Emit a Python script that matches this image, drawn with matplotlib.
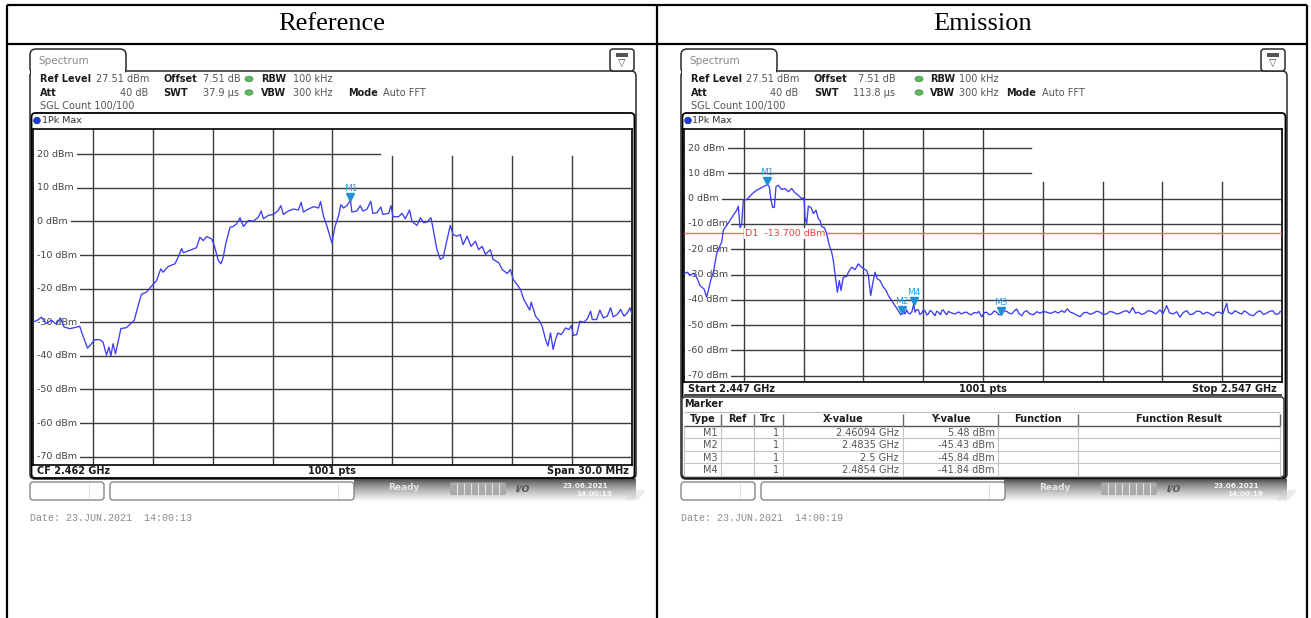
import numpy as np
import matplotlib
matplotlib.use('Agg')
import matplotlib.pyplot as plt
from matplotlib.patches import FancyBboxPatch, Rectangle, Circle, Ellipse
import matplotlib.transforms as mtransforms

# ---------------- data ----------------
ref_freq_mhz = [2447.00, 2447.25, 2447.42, 2447.67, 2447.92, 2448.17, 2448.37, 2448.55, 2448.84, 2449.09,
                2449.34, 2449.46, 2449.73, 2449.93, 2450.09, 2450.34, 2450.51, 2450.68, 2450.80, 2450.90,
                2451.01, 2451.13, 2451.26, 2451.40, 2451.68, 2452.07, 2452.27, 2452.43, 2452.69, 2452.90,
                2453.19, 2453.40, 2453.52, 2453.77, 2454.11, 2454.31, 2454.44, 2454.53, 2454.94, 2455.19,
                2455.36, 2455.53, 2455.70, 2455.95, 2456.08, 2456.28, 2456.41, 2456.53, 2456.65, 2456.78,
                2456.87, 2457.03, 2457.20, 2457.37, 2457.54, 2457.79, 2458.04, 2458.29, 2458.43, 2458.54,
                2458.79, 2459.04, 2459.29, 2459.41, 2459.54, 2459.79, 2460.04, 2460.29, 2460.43, 2460.54,
                2460.80, 2461.05, 2461.30, 2461.40, 2461.55, 2461.72, 2461.97, 2462.13, 2462.30, 2462.42,
                2462.55, 2462.72, 2462.90, 2462.97, 2463.22, 2463.39, 2463.52, 2463.72, 2463.92, 2464.02,
                2464.22, 2464.42, 2464.52, 2464.81, 2464.93, 2465.03, 2465.31, 2465.48, 2465.65, 2465.86,
                2465.98, 2466.23, 2466.40, 2466.57, 2466.73, 2466.93, 2467.03, 2467.23, 2467.40, 2467.54,
                2467.70, 2467.90, 2468.04, 2468.24, 2468.40, 2468.54, 2468.74, 2468.94, 2469.16, 2469.32,
                2469.49, 2469.66, 2469.91, 2470.04, 2470.33, 2470.50, 2470.75, 2470.91, 2471.05, 2471.25,
                2471.42, 2471.58, 2471.88, 2471.95, 2472.17, 2472.38, 2472.50, 2472.67, 2472.79, 2472.92,
                2473.05, 2473.17, 2473.29, 2473.45, 2473.67, 2473.84, 2473.96, 2474.06, 2474.23, 2474.39,
                2474.59, 2474.76, 2474.93, 2475.01, 2475.23, 2475.39, 2475.56, 2475.76, 2475.93, 2476.06,
                2476.26, 2476.43, 2476.60, 2476.77, 2476.90, 2477.00]
ref_level_dbm = [-30.0, -29.3, -28.5, -30.4, -29.4, -30.6, -28.7, -31.4, -31.9, -31.6,
                 -31.2, -33.4, -37.7, -36.4, -35.2, -35.2, -35.9, -39.8, -37.4, -40.0,
                 -36.4, -39.4, -35.9, -31.9, -31.6, -29.4, -25.0, -21.7, -21.0, -19.5,
                 -17.6, -14.1, -15.1, -13.4, -12.6, -10.1, -8.1, -9.3, -8.4, -7.8,
                 -4.7, -5.7, -4.5, -5.2, -7.2, -11.6, -12.6, -10.6, -6.7, -3.7,
                 -1.7, -1.5, -0.7, 1.1, -1.5, 0.3, 0.1, 1.3, 3.1, 0.8,
                 1.8, 2.1, 3.3, 4.7, 2.1, 3.1, 3.7, 3.4, 5.7, 2.8,
                 3.7, 4.4, 4.0, 5.9, 1.6, -1.4, -6.4, -1.4, 1.6, 5.0,
                 4.0, 4.7, 6.3, 2.8, 3.1, 4.7, 3.1, 3.6, 6.0, 2.4,
                 2.6, 4.3, 2.1, 2.4, 4.7, 1.4, 1.4, 2.4, 0.8, 3.4,
                 0.0, -1.2, 1.1, -0.4, -0.2, 1.1, -1.9, -8.4, -11.3, -10.8,
                 -6.4, -1.2, -3.9, -4.4, -3.9, -6.9, -4.4, -7.4, -5.9, -8.4,
                 -7.4, -9.8, -8.4, -11.3, -12.3, -14.3, -15.5, -14.3, -17.3, -18.8,
                 -20.3, -23.2, -26.4, -24.0, -28.2, -29.7, -31.2, -35.1, -37.1, -33.2,
                 -38.1, -35.1, -33.2, -33.7, -31.7, -32.2, -31.0, -33.9, -33.7, -29.7,
                 -30.0, -29.0, -26.7, -29.2, -29.2, -26.4, -28.7, -28.2, -25.7, -28.4,
                 -27.7, -26.2, -28.2, -27.2, -25.7, -27.7]

# emission trace: in-band part and skirt
emi_band_freq_mhz = [2447.00, 2447.56, 2448.00, 2448.56, 2449.12, 2449.68, 2450.34, 2450.79, 2451.07, 2451.46,
                     2451.91, 2452.46, 2452.91, 2453.30, 2453.58, 2454.13, 2454.69, 2455.25, 2455.81, 2456.09,
                     2456.36, 2456.64, 2456.92, 2457.48, 2458.04, 2458.59, 2459.15, 2459.71, 2460.27, 2460.71,
                     2460.94, 2461.27, 2461.55, 2461.83, 2462.11, 2462.38, 2462.77, 2463.33, 2463.89, 2464.45,
                     2465.00, 2465.56, 2466.12, 2466.68, 2467.07, 2467.23, 2467.51, 2467.79, 2468.24, 2468.63,
                     2469.07, 2469.46, 2469.74, 2470.02, 2470.47, 2470.86, 2471.30, 2471.69, 2471.97, 2472.25,
                     2472.64, 2472.98, 2473.25, 2473.64, 2474.20, 2474.48, 2475.04, 2475.60, 2476.15, 2476.71,
                     2477.10, 2477.54, 2477.83, 2478.22, 2478.55, 2478.94, 2479.33, 2479.78, 2480.34, 2480.78,
                     2481.17, 2481.73, 2482.29, 2482.84, 2483.23]
emi_band_level_dbm = [-29.7, -29.1, -30.4, -29.5, -31.1, -34.4, -35.7, -39.0, -36.3, -32.4,
                      -29.1, -21.8, -19.2, -17.2, -12.5, -10.6, -8.6, -6.6, -4.6, -3.0,
                      -11.5, -10.2, -0.6, -0.4, 1.0, 2.3, 3.3, 4.0, 4.7, 5.3,
                      5.48, 4.7, -0.6, -3.5, -3.5, 4.7, 5.3, 3.6, 4.0, 2.7,
                      4.0, 2.3, 1.3, 0.0, 0.4, -7.2, -10.2, -3.0, -3.5, -5.9,
                      -4.6, -7.9, -8.6, -11.0, -11.5, -13.9, -18.5, -21.1, -24.4, -29.7,
                      -37.0, -32.4, -36.3, -31.1, -30.8, -29.1, -27.1, -28.1, -25.8, -27.1,
                      -27.8, -28.4, -30.4, -38.3, -33.7, -29.1, -31.7, -32.4, -35.0, -36.3,
                      -38.3, -40.3, -42.3, -44.3, -45.9]
# emission trace: noise floor above the band edge
emi_floor_freq_mhz = [2483.50, 2483.75, 2483.96, 2484.24, 2484.50, 2484.79, 2485.10, 2485.40, 2485.63, 2485.90,
                      2486.19, 2486.45, 2486.74, 2487.00, 2487.30, 2487.60, 2487.86, 2488.15, 2488.42, 2488.70,
                      2488.97, 2489.25, 2489.53, 2489.90, 2490.10, 2490.37, 2490.65, 2490.92, 2491.20, 2491.48,
                      2491.90, 2492.32, 2492.90, 2493.43, 2493.85, 2494.27, 2494.70, 2495.10, 2495.50, 2495.94,
                      2496.30, 2496.78, 2497.20, 2497.61, 2498.00, 2498.45, 2498.85, 2499.29, 2499.65, 2500.00,
                      2500.45, 2500.96, 2501.40, 2501.79, 2502.20, 2502.63, 2503.00, 2503.47, 2503.90, 2504.30,
                      2504.80, 2505.42, 2506.00, 2506.53, 2507.10, 2507.65, 2508.30, 2509.04, 2509.60, 2510.15,
                      2510.60, 2511.10, 2511.60, 2512.11, 2512.70, 2513.22, 2513.80, 2514.34, 2514.90, 2515.45,
                      2516.00, 2516.57, 2517.10, 2517.68, 2518.20, 2518.79, 2519.30, 2519.91, 2520.50, 2521.02,
                      2521.50, 2522.03, 2522.50, 2522.98, 2523.50, 2524.09, 2524.60, 2525.21, 2525.90, 2526.60,
                      2527.10, 2527.71, 2528.20, 2528.83, 2529.40, 2529.94, 2530.50, 2531.06, 2531.60, 2532.17,
                      2532.70, 2533.29, 2533.80, 2534.40, 2534.90, 2535.52, 2536.00, 2536.52, 2537.10, 2537.75,
                      2538.03, 2538.60, 2539.14, 2539.70, 2540.26, 2540.70, 2541.09, 2541.60, 2542.21, 2542.80,
                      2543.32, 2543.90, 2544.44, 2544.90, 2545.44, 2545.90, 2546.39, 2546.70, 2547.00]
emi_floor_level_dbm = [-45.43, -44.6, -45.6, -44.0, -45.2, -45.6, -44.8, -41.84, -44.9, -43.9,
                       -44.0, -45.8, -45.3, -44.1, -44.3, -46.0, -45.6, -44.2, -44.6, -45.5,
                       -46.3, -44.5, -44.9, -45.9, -44.3, -44.0, -45.2, -45.9, -44.6, -44.9,
                       -45.3, -45.6, -44.8, -45.6, -45.0, -44.9, -45.7, -45.9, -45.0, -45.3,
                       -44.6, -46.7, -45.1, -44.9, -45.9, -45.6, -44.4, -44.9, -45.9, -45.84,
                       -44.3, -44.6, -45.3, -45.6, -44.5, -43.6, -45.4, -46.3, -44.8, -44.3,
                       -45.5, -45.9, -44.7, -45.3, -44.6, -44.9, -45.4, -44.6, -45.2, -44.3,
                       -45.0, -43.6, -44.9, -45.3, -46.1, -46.7, -45.2, -44.9, -45.7, -45.3,
                       -44.5, -44.9, -45.8, -45.6, -44.6, -44.9, -45.6, -45.3, -44.6, -44.3,
                       -45.2, -43.0, -45.3, -44.9, -45.8, -45.3, -44.3, -44.6, -45.6, -44.0,
                       -45.5, -42.3, -45.2, -45.6, -44.7, -46.9, -45.0, -44.3, -45.9, -45.6,
                       -44.5, -44.6, -45.7, -44.9, -45.4, -46.3, -45.0, -44.9, -45.6, -41.4,
                       -44.9, -45.6, -44.3, -45.1, -45.6, -44.4, -44.9, -45.9, -46.3, -44.9,
                       -44.3, -45.8, -45.3, -44.6, -44.3, -45.7, -45.6, -44.6, -44.9]

ref_marker_names = ['M1']
ref_marker_freq_mhz = [2462.899]
ref_marker_level = [6.30]

emi_marker_names = ['M1', 'M2', 'M3', 'M4']
emi_marker_freq_mhz = [2460.94, 2483.5, 2500.0, 2485.4]
emi_marker_level = [5.48, -45.43, -45.84, -41.84]
emi_marker_xtext = ['2.46094 GHz', '2.4835 GHz', '2.5 GHz', '2.4854 GHz']
emi_marker_ytext = ['5.48 dBm', '-45.43 dBm', '-45.84 dBm', '-41.84 dBm']

d1_level_dbm = -13.7
ytick_dbm = [20, 10, 0, -10, -20, -30, -40, -50, -60, -70]
ytick_labels = ['20 dBm', '10 dBm', '0 dBm', '-10 dBm', '-20 dBm', '-30 dBm', '-40 dBm', '-50 dBm', '-60 dBm', '-70 dBm']
ref_level = 27.51
ref_span = (2447.0, 2477.0)
emi_span = (2447.0, 2547.0)
table_cols = ['Type', 'Ref', 'Trc', 'X-value', 'Y-value', 'Function', 'Function Result']

emi_freq_mhz = emi_band_freq_mhz + emi_floor_freq_mhz
emi_level_dbm = emi_band_level_dbm + emi_floor_level_dbm

# ---------------- figure ----------------
W, H = 1311, 618
plt.rcParams['font.family'] = ['DejaVu Sans']
fig = plt.figure(figsize=(W / 100, H / 100), dpi=100)
bg = fig.add_axes([0, 0, 1, 1])
bg.axis('off')

BLUE_TR = '#3d3df2'
MK = '#2c9ee0'
DARK = '#1c1c1c'
VAL = '#555555'
GRID = '#3c3c3c'


def T(x, y, s, ha='left', va='center', size=7, weight='normal', color=VAL, family='DejaVu Sans', ax=None, **kw):
    ax = ax or bg
    return ax.text(x, y, s, ha=ha, va=va, fontsize=size, fontweight=weight, color=color,
                   family=family, **kw)


def L(xs, ys, color='black', lw=1.0, z=2):
    bg.plot(xs, ys, color=color, lw=lw, zorder=z, solid_capstyle='butt')


def rbox(x0, y0, x1, y1, r=3, ec='#333333', fc='none', lw=1.0, z=2):
    p = FancyBboxPatch((x0, y0), x1 - x0, y1 - y0, boxstyle=f'round,pad=0,rounding_size={r}',
                       ec=ec, fc=fc, lw=lw, zorder=z)
    bg.add_patch(p)
    return p


# table borders
L([7, 1307], [5, 5], lw=1.6)
L([7, 1307], [44, 44], lw=1.6)
L([7, 7], [5, 618], lw=1.6)
L([657, 657], [5, 618], lw=1.6)
L([1307, 1307], [5, 618], lw=1.6)
T(332, 24, 'Reference', ha='center', size=19, color='black', family='Liberation Serif')
T(983, 24, 'Emission', ha='center', size=19, color='black', family='Liberation Serif')


def header(dx, swt, pos):
    # frame + tab
    rbox(30 + dx, 71, 636 + dx, 479, r=5, ec='#2a2a2a', lw=1.1, z=2)
    rbox(30 + dx, 49, 126 + dx, 74, r=6, ec='#2a2a2a', fc='white', lw=1.1, z=3)
    bg.add_patch(Rectangle((31 + dx, 70), 94, 5, fc='white', ec='none', zorder=3.5))
    T(38 + dx, 61, 'Spectrum', size=7.5, color='#8a8a8a')
    rbox(610 + dx, 49, 634 + dx, 71, r=3, ec='#2a2a2a', fc='white', lw=1.1, z=3)
    bg.add_patch(Rectangle((616 + dx, 52.5), 12, 4.5, fc='#555555', ec='none', zorder=4))
    bg.text(622 + dx, 63, '▽', ha='center', va='center', fontsize=7, color='#444444', zorder=4)
    r1, r2 = 79, 92.5
    T(40 + dx, r1, 'Ref Level', weight='bold', color=DARK, zorder=5)
    T(pos['rl'], r1, '27.51 dBm', zorder=5)
    T(pos['off'], r1, 'Offset', weight='bold', color=DARK)
    T(pos['offv'], r1, '7.51 dB')
    T(pos['rbw'], r1, 'RBW', weight='bold', color=DARK)
    T(pos['rbwv'], r1, '100 kHz')
    T(40 + dx, r2, 'Att', weight='bold', color=DARK)
    T(pos['att'], r2, '40 dB', ha='right')
    T(pos['off'], r2, 'SWT', weight='bold', color=DARK)
    T(pos['swtv'], r2, swt)
    T(pos['rbw'], r2, 'VBW', weight='bold', color=DARK)
    T(pos['rbwv'], r2, '300 kHz')
    T(pos['mode'], r2, 'Mode', weight='bold', color=DARK)
    T(pos['modev'], r2, 'Auto FFT')
    for yy in (r1, r2):
        bg.add_patch(Ellipse((pos['dot'], yy), 8, 5.5, fc='#5cb85c', ec='#3d8f3d', lw=0.5, zorder=4))
    T(40 + dx, 106.5, 'SGL Count 100/100')
    # graticule outer box with 1Pk Max band
    rbox(31.5 + dx, 113, 634.5 + dx, 478, r=4, ec='black', lw=1.3, z=5)
    bg.add_patch(Circle((37 + dx, 120.5), 3.3, fc='#1d3fe0', ec='#0a1f90', lw=0.5, zorder=6))
    T(41.5 + dx, 120.5, '1Pk Max', size=6.8, color='#333333')


header(0, '37.9 µs', dict(rl=96, off=163, offv=203, rbw=261, rbwv=293, att=148, swtv=203,
                         mode=348, modev=383, dot=249))
header(651, '113.8 µs', dict(rl=746, off=814, offv=858, rbw=930, rbwv=959, att=798, swtv=853,
                            mode=1006, modev=1042, dot=919))


def spec_axes(x0, x1, y0, y1, span, trace_f, trace_v, hcut, vcut_top):
    ax = fig.add_axes([x0 / W, 1 - y1 / H, (x1 - x0) / W, (y1 - y0) / H])
    ax.set_xlim(*span)
    ax.set_ylim(ref_level - 100, ref_level)
    ax.set_xticks([]); ax.set_yticks([])
    for s in ax.spines.values():
        s.set_color('black'); s.set_linewidth(1.2)
    ax.set_zorder(6)
    step = (span[1] - span[0]) / 10
    for k in range(1, 10):
        top = vcut_top if k >= 6 else 1.0
        ax.axvline(span[0] + k * step, ymin=0, ymax=top, color=GRID, lw=1.0, zorder=1)
    for v, lab in zip(ytick_dbm, ytick_labels):
        xm = hcut.get(v, 1.0)
        ax.axhline(v, xmin=0, xmax=xm, color=GRID, lw=1.0, zorder=1)
        ax.text(4 / (x1 - x0), v, lab, transform=ax.get_yaxis_transform(), ha='left', va='center',
                fontsize=6.8, color='#444444', zorder=2,
                bbox=dict(boxstyle='square,pad=0.35', fc='white', ec='none'))
    ax.plot(trace_f, trace_v, color=BLUE_TR, lw=0.95, zorder=4)
    return ax


def markers(ax, names, fr, lv):
    tri = mtransforms.offset_copy(ax.transData, fig=fig, x=0, y=3.5, units='dots')
    lab = mtransforms.offset_copy(ax.transData, fig=fig, x=0, y=12, units='dots')
    for n, f, v in zip(names, fr, lv):
        ax.plot([f], [v], marker='v', ms=5.5, color='#1f8fd6', transform=tri, zorder=7, clip_on=False)
        ax.text(f, v, n, transform=lab, ha='center', va='center', fontsize=6.5, color=MK, zorder=7)


# left spectrum
axL = spec_axes(33, 632, 129, 465, ref_span, ref_freq_mhz, ref_level_dbm,
                {20: (380 - 33) / 599}, (465 - 156) / 336)
markers(axL, ref_marker_names, ref_marker_freq_mhz, ref_marker_level)
T(381, 136, 'M1[1]', color=MK, size=7, weight='bold')
T(631, 136, f'{ref_marker_level[0]:.2f} dBm', ha='right', color=MK, size=7, weight='bold')
T(631, 149.5, f'{ref_marker_freq_mhz[0] / 1000:.7f} GHz', ha='right', color=MK, size=7, weight='bold')
T(37, 471.5, 'CF 2.462 GHz', weight='bold', color=DARK)
T(332, 471.5, '1001 pts', ha='center', weight='bold', color=DARK)
T(629, 471.5, 'Span 30.0 MHz', ha='right', weight='bold', color=DARK)

# right spectrum
axR = spec_axes(684, 1282, 129, 382, emi_span, emi_freq_mhz, emi_level_dbm,
                {20: (1031 - 684) / 598, 10: (1031 - 684) / 598}, (382 - 182) / 253)
axR.axhline(d1_level_dbm, color='#ff6a6a', lw=1.0, zorder=3)
axR.text((745 - 684) / 598, d1_level_dbm, 'D1  -13.700 dBm', transform=axR.get_yaxis_transform(),
         ha='left', va='center', fontsize=6.8, color='#f04040', zorder=3.5,
         bbox=dict(boxstyle='square,pad=0.1', fc='white', ec='none'))
markers(axR, emi_marker_names, emi_marker_freq_mhz, emi_marker_level)
T(1032, 136, 'M1[1]', color=MK, size=7, weight='bold')
T(1281, 136, emi_marker_ytext[0], ha='right', color=MK, size=7, weight='bold')
T(1281, 149, f'{emi_marker_freq_mhz[0] / 1000:.7f} GHz', ha='right', color=MK, size=7, weight='bold')
T(1032, 162.5, 'M2[1]', color=MK, size=7, weight='bold')
T(1281, 162.5, emi_marker_ytext[1], ha='right', color=MK, size=7, weight='bold')
T(1281, 175.5, f'{emi_marker_freq_mhz[1] / 1000:.7f} GHz', ha='right', color=MK, size=7, weight='bold')
L([684, 1282], [395, 395], color='#222222', lw=1.2, z=5)
T(688, 388.5, 'Start 2.447 GHz', weight='bold', color=DARK)
T(983, 388.5, '1001 pts', ha='center', weight='bold', color=DARK)
T(1277, 388.5, 'Stop 2.547 GHz', ha='right', weight='bold', color=DARK)

# marker table
rbox(682, 397, 1284, 477, r=3, ec='#444444', fc='white', lw=1.2, z=5)
T(684.5, 404, 'Marker', weight='bold', color=DARK, zorder=6)
col_edges = [684, 721, 754, 782.7, 902.7, 998.3, 1078.3, 1280]
row_edges = [411.7, 425.7, 438.3, 451, 463.3, 476]
L([684, 1280], [row_edges[0], row_edges[0]], color='#bbbbbb', lw=0.8, z=6)
L([684, 1280], [row_edges[1], row_edges[1]], color='#555555', lw=1.0, z=6)
for yy in row_edges[2:]:
    L([684, 1280], [yy, yy], color='#c4c4c4', lw=0.8, z=6)
for i, xx in enumerate(col_edges[1:]):
    L([xx, xx], [row_edges[0] + 2, row_edges[1]], color='#666666', lw=1.0, z=6)
    L([xx, xx], [row_edges[1], row_edges[-1]], color='#c4c4c4', lw=0.8, z=6)
L([684, 684], [row_edges[1], row_edges[-1]], color='#c4c4c4', lw=0.8, z=6)
for i, c in enumerate(table_cols):
    T((col_edges[i] + col_edges[i + 1]) / 2, 418.5, c, ha='center', weight='bold', color=DARK, zorder=7)
for r, (n, xt, yt) in enumerate(zip(emi_marker_names, emi_marker_xtext, emi_marker_ytext)):
    yc = (row_edges[r + 1] + row_edges[r + 2]) / 2 + 0.5
    T(718, yc, n, ha='right', zorder=7)
    T(779, yc, '1', ha='right', zorder=7)
    T(898.5, yc, xt, ha='right', zorder=7)
    T(994.5, yc, yt, ha='right', zorder=7)


# bottom status bars
def status_bar(dx, x_band0, date_txt):
    rbox(30 + dx, 482, 104 + dx, 500, r=3, ec='#7a7a7a', fc='white', lw=0.9, z=5)
    rbox(110 + dx, 482, 354 + dx, 500, r=3, ec='#7a7a7a', fc='white', lw=0.9, z=5)
    L([89 + dx, 89 + dx], [484, 498], color='#dddddd', lw=0.8, z=6)
    L([338 + dx, 338 + dx], [484, 498], color='#dddddd', lw=0.8, z=6)
    t = np.linspace(0, 1, 40) ** 0.7
    g = 0.27 + 0.73 * t
    img = np.repeat(g[:, None], 2, axis=1)
    img = np.dstack([img, img, img])
    bg.imshow(img, extent=[x_band0, 636 + dx, 502, 479], aspect='auto', zorder=4, interpolation='bilinear')
    T(388 + dx, 488, 'Ready', weight='bold', color='#e6e6e6', size=6.5, zorder=6)
    bg.add_patch(FancyBboxPatch((450 + dx, 482.5), 56, 12.5, boxstyle='round,pad=0,rounding_size=2',
                                fc='#a9a9a9', ec='none', zorder=6))
    for k in range(1, 8):
        L([450 + dx + 7 * k, 450 + dx + 7 * k], [483, 495], color='#e2e2e2', lw=0.8, z=7)
    T(516 + dx, 488.5, 'I/O', weight='bold', style='italic', color='#555555', size=6.5, zorder=6)
    T(585 + dx, 485.5, '23.06.2021', ha='center', color='#f2f2f2', size=5.2, weight='bold', zorder=6)
    T(594 + dx, 494, date_txt[-8:], ha='center', color='#f8f8f8', size=5.2, weight='bold', zorder=6)
    for k in range(6):
        L([626 + dx + 2.2 * k, 634 + dx + 2.2 * k], [500, 490], color='#cfcfcf', lw=0.5, z=6)
    T(30 + dx, 518, date_txt, size=7.2, color='#8a8a8a', family='Liberation Mono')


status_bar(0, 354, 'Date: 23.JUN.2021  14:00:13')
status_bar(651, 1004, 'Date: 23.JUN.2021  14:00:19')

bg.set_xlim(0, W)
bg.set_ylim(H, 0)
fig.savefig('out.png', dpi=100)
